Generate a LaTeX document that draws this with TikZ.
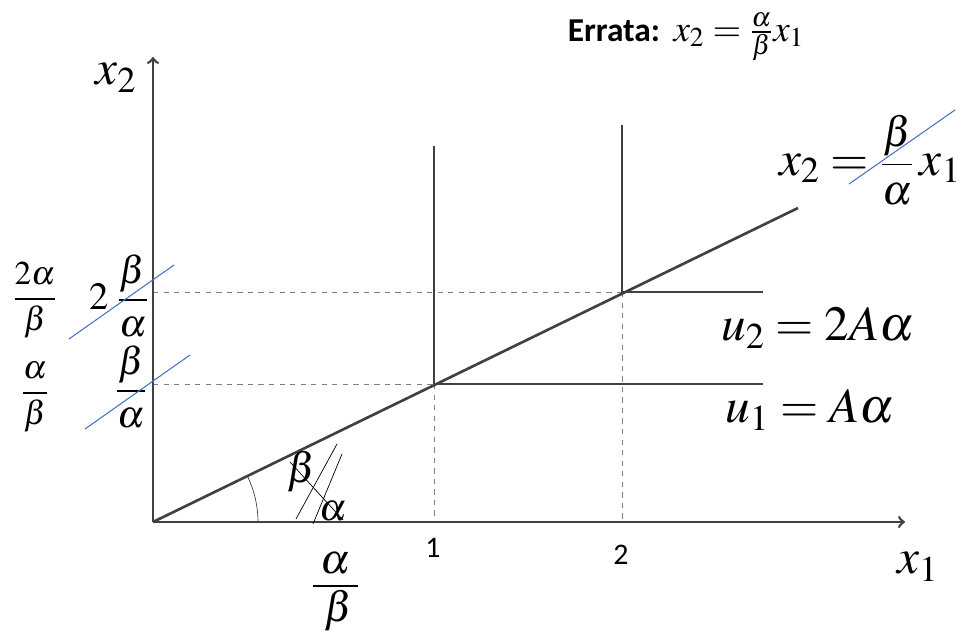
\documentclass[tikz,border=0pt]{standalone}
\usepackage{xcolor}
\usepackage{amsmath}
\usepackage{tikz}
\usepackage{mathptmx}
\usepackage{fontspec}
\newfontfamily\calfont{Carlito}

\definecolor{axisgray}{RGB}{64,64,64}
\definecolor{strikeblue}{RGB}{68,114,196}

\begin{document}
\begin{tikzpicture}[
    x=0.02cm, y=-0.02cm,
    axis/.style={draw=axisgray, line width=1.5pt},
    guide/.style={draw=gray, thin, dashed},
    strike/.style={draw=strikeblue, line width=0.6pt},
    biglabel/.style={inner sep=0pt, font=\fontsize{28}{30}\selectfont},
    fraclabel/.style={inner sep=0pt, font=\fontsize{22}{24}\selectfont},
    corlabel/.style={inner sep=0pt, font=\fontsize{19}{21}\selectfont},
    ticklabel/.style={inner sep=0pt, font=\calfont\fontsize{17}{19}\selectfont},
    >={to}
    ]

    \useasboundingbox (0,0) rectangle (965,634);

    % points
    \coordinate (O) at (153,522);
    \coordinate (xend) at (905,522);
    \coordinate (yend) at (153,57);
    \coordinate (lend) at (798,208);
    \coordinate (p1) at (434,384);
    \coordinate (p2) at (622,292);
    \coordinate (p1top) at (434,146);
    \coordinate (p2top) at (622,125);
    \coordinate (h1end) at (763,384);
    \coordinate (h2end) at (763,292);
    \coordinate (a1) at (153,384);
    \coordinate (a2) at (153,292);
    \coordinate (b1) at (434,522);
    \coordinate (b2) at (622,522);
    \coordinate (arcstart) at (258,522);

    % guides
    \draw[guide] (a1) -- (p1);
    \draw[guide] (a2) -- (p2);
    \draw[guide] (p1) -- (b1);
    \draw[guide] (p2) -- (b2);

    % axes and lines
    \draw[axis,->] (O) -- (xend);
    \draw[axis,->] (O) -- (yend);
    \draw[axis] (O) -- (lend);
    \draw[axis] (p1top) -- (p1) -- (h1end);
    \draw[axis] (p2top) -- (p2) -- (h2end);

    % angle
    \draw[axisgray, thin] (arcstart) arc[start angle=0, end angle=-25.9, radius=105];

    % axis labels
    \node[biglabel] (x2lab) at (116,78) {$x_2$};
    \node[biglabel] (x1lab) at (918,567) {$x_1$};
    \node[ticklabel] (t1) at (433,548) {1};
    \node[ticklabel] (t2) at (621,555) {2};

    % levels on the x2 axis
    \node[fraclabel] (lev2) at (119,296) {$2\;\dfrac{\beta}{\alpha}$};
    \node[fraclabel] (lev1) at (131,387) {$\dfrac{\beta}{\alpha}$};
    \node[corlabel] (cor2) at (35,300) {$\dfrac{2\alpha}{\beta}$};
    \node[corlabel] (cor1) at (35,397) {$\dfrac{\alpha}{\beta}$};
    \draw[strike] (69,339) -- (174,265);
    \draw[strike] (85,429) -- (190,355);

    % line and levels on the right
    \node[biglabel] (linelab) at (870,160)
        {$x_2 = \mbox{\fontsize{24}{26}\selectfont$\dfrac{\beta}{\alpha}$}\,x_1$};
    \draw[strike] (849,184) -- (955,110);
    \node[biglabel] (u2lab) at (818,328) {$u_2 = 2A\alpha$};
    \node[biglabel] (u1lab) at (810,410) {$u_1 = A\alpha$};

    % errata
    \node[inner sep=0pt, font=\fontsize{19}{21}\selectfont] (errata) at (686,37)
        {{\calfont\bfseries Errata:} \mbox{\fontsize{21}{23}\selectfont$x_2 = \frac{\alpha}{\beta}x_1$}};

    % slope note
    \node[inner sep=0pt, font=\fontsize{24}{26}\selectfont] (nb) at (302,472) {$\beta$};
    \node[inner sep=0pt, font=\fontsize{22}{24}\selectfont] (na) at (333,511) {$\alpha$};
    \draw[thin] (290,462) -- (343,520);
    \draw[thin] (296,519) -- (337,444);
    \draw[thin] (313,524) -- (342,454);
    \node[inner sep=0pt, font=\fontsize{24}{26}\selectfont] (sa) at (336,563) {$\alpha$};
    \node[inner sep=0pt, font=\fontsize{24}{26}\selectfont] (sb) at (339,611) {$\beta$};
    \draw[line width=1.2pt] (313,586) -- (358,586);

\end{tikzpicture}
\end{document}
